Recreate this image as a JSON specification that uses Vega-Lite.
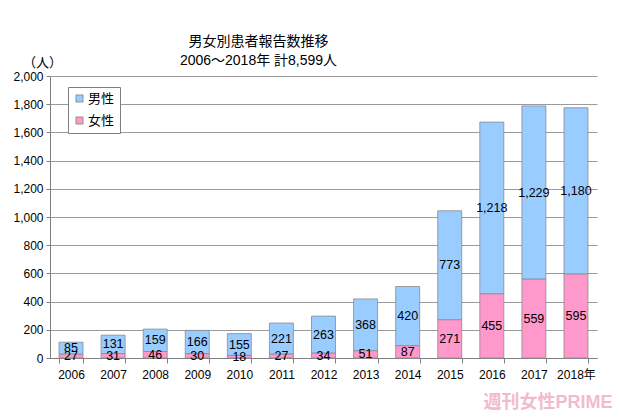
{
  "$schema": "https://vega.github.io/schema/vega-lite/v6.json",
  "width": 547,
  "height": 282,
  "autosize": {"type": "none"},
  "padding": {"left": 50, "top": 76, "right": 23, "bottom": 60},
  "background": "white",
  "title": {
    "text": ["男女別患者報告数推移", "2006～2018年  計8,599人"],
    "fontSize": 14,
    "fontWeight": "normal",
    "font": "Liberation Sans, Noto Sans CJK JP",
    "color": "#000000",
    "anchor": "middle",
    "frame": "group",
    "dx": -65,
    "offset": -12,
    "lineHeight": 19
  },
  "data": {
    "values": [
      {"year": "2006", "sex": "男性", "ord": 2, "value": 85},
      {"year": "2007", "sex": "男性", "ord": 2, "value": 131},
      {"year": "2008", "sex": "男性", "ord": 2, "value": 159},
      {"year": "2009", "sex": "男性", "ord": 2, "value": 166},
      {"year": "2010", "sex": "男性", "ord": 2, "value": 155},
      {"year": "2011", "sex": "男性", "ord": 2, "value": 221},
      {"year": "2012", "sex": "男性", "ord": 2, "value": 263},
      {"year": "2013", "sex": "男性", "ord": 2, "value": 368},
      {"year": "2014", "sex": "男性", "ord": 2, "value": 420},
      {"year": "2015", "sex": "男性", "ord": 2, "value": 773},
      {"year": "2016", "sex": "男性", "ord": 2, "value": 1218},
      {"year": "2017", "sex": "男性", "ord": 2, "value": 1229},
      {"year": "2018", "sex": "男性", "ord": 2, "value": 1180},
      {"year": "2006", "sex": "女性", "ord": 1, "value": 27},
      {"year": "2007", "sex": "女性", "ord": 1, "value": 31},
      {"year": "2008", "sex": "女性", "ord": 1, "value": 46},
      {"year": "2009", "sex": "女性", "ord": 1, "value": 30},
      {"year": "2010", "sex": "女性", "ord": 1, "value": 18},
      {"year": "2011", "sex": "女性", "ord": 1, "value": 27},
      {"year": "2012", "sex": "女性", "ord": 1, "value": 34},
      {"year": "2013", "sex": "女性", "ord": 1, "value": 51},
      {"year": "2014", "sex": "女性", "ord": 1, "value": 87},
      {"year": "2015", "sex": "女性", "ord": 1, "value": 271},
      {"year": "2016", "sex": "女性", "ord": 1, "value": 455},
      {"year": "2017", "sex": "女性", "ord": 1, "value": 559},
      {"year": "2018", "sex": "女性", "ord": 1, "value": 595}
    ]
  },
  "config": {
    "view": {"stroke": null},
    "font": "Liberation Sans, Noto Sans CJK JP",
    "axis": {
      "labelColor": "#000000",
      "labelFont": "Liberation Sans, Noto Sans CJK JP",
      "titleFont": "Liberation Sans, Noto Sans CJK JP",
      "domainColor": "#7f7f7f",
      "tickColor": "#7f7f7f"
    },
    "axisY": {
      "tickCount": 11,
      "labelOverlap": false
    }
  },
  "layer": [
    {
      "mark": {"type": "bar", "stroke": "#8a8a8a", "strokeWidth": 0.8},
      "encoding": {
        "x": {
          "field": "year",
          "type": "ordinal",
          "scale": {"paddingInner": 0.43, "paddingOuter": 0.215},
          "axis": {
            "labelAngle": 0,
            "tickBand": "extent",
            "tickSize": 5,
            "labelPadding": 6,
            "labelFontSize": 12,
            "labelExpr": "datum.value == '2018' ? '2018年' : datum.value",
            "title": "週刊女性PRIME",
            "titleAnchor": "end",
            "titleAlign": "right",
            "titleX": 562,
            "titleY": 44,
            "titleBaseline": "middle",
            "titleFontSize": 18,
            "titleFontWeight": "bold",
            "titleColor": "#f0bccd"
          }
        },
        "y": {
          "field": "value",
          "type": "quantitative",
          "stack": "zero",
          "scale": {"domain": [0, 2000], "nice": false},
          "axis": {
            "values": [0, 200, 400, 600, 800, 1000, 1200, 1400, 1600, 1800, 2000],
            "tickCount": 11,
            "format": ",d",
            "labelOverlap": false,
            "grid": true,
            "gridColor": "#9a9a9a",
            "gridWidth": 1,
            "tickSize": 4,
            "labelPadding": 3,
            "labelFontSize": 12,
            "title": "（人）",
            "titleAngle": 0,
            "titleX": -8,
            "titleY": -14,
            "titleAlign": "center",
            "titleBaseline": "middle",
            "titleFontWeight": "normal",
            "titleFontSize": 13,
            "titleColor": "#000000"
          }
        },
        "color": {
          "field": "sex",
          "type": "nominal",
          "scale": {"domain": ["男性", "女性"], "range": ["#99ccff", "#ff99cc"]},
          "legend": {
            "title": null,
            "orient": "none",
            "legendX": 18,
            "legendY": 11,
            "direction": "vertical",
            "strokeColor": "#7f7f7f",
            "fillColor": "white",
            "padding": 5,
            "symbolType": "square",
            "symbolSize": 50,
            "symbolStrokeColor": "#7f7f7f",
            "symbolStrokeWidth": 0.8,
            "labelFontSize": 13,
            "labelColor": "#000000",
            "rowPadding": 8,
            "labelOffset": 2
          }
        },
        "order": {"field": "ord", "type": "quantitative"}
      }
    },
    {
      "transform": [
        {"stack": "value", "groupby": ["year"], "sort": [{"field": "ord"}], "as": ["v0", "v1"]},
        {"calculate": "datum.value", "as": "lbl"},
        {"calculate": "(datum.v0 + datum.v1) / 2", "as": "value"}
      ],
      "mark": {"type": "text", "fontSize": 12.5, "color": "#000000", "baseline": "middle"},
      "encoding": {
        "x": {"field": "year", "type": "ordinal"},
        "y": {"field": "value", "type": "quantitative", "stack": null},
        "text": {"field": "lbl", "type": "quantitative", "format": ",d"}
      }
    }
  ]
}
